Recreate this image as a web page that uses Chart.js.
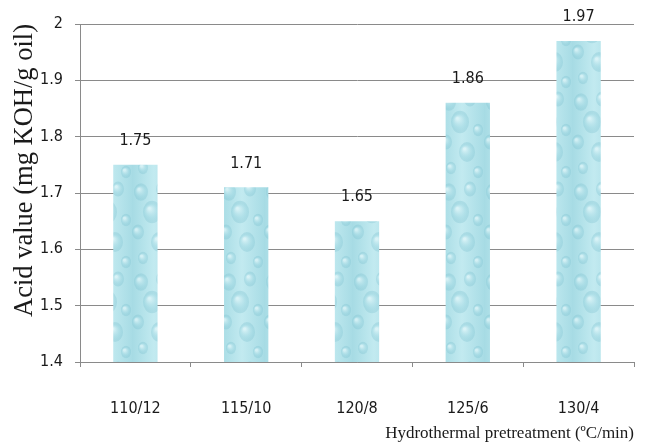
<!DOCTYPE html>
<html>
<head>
<meta charset="utf-8">
<script src="https://cdn.jsdelivr.net/npm/chart.js@4"></script>
<style>
  html, body { margin: 0; padding: 0; background: #fff; }
  #wrap { width: 649px; height: 444px; }
</style>
</head>
<body>
<div id="wrap"><canvas id="myChart" width="649" height="444"></canvas></div>
<script>
const categories = ['110/12', '115/10', '120/8', '125/6', '130/4'];
const acidValues = [1.75, 1.71, 1.65, 1.86, 1.97];
const yTicks = [1.4, 1.5, 1.6, 1.7, 1.8, 1.9, 2];

const sansFont = '"DejaVu Sans Condensed", "DejaVu Sans"';

// water-drop look for the bars
function makeDropPattern() {
  const c = document.createElement('canvas');
  c.width = 44; c.height = 90;
  const g = c.getContext('2d');
  const bg = g.createLinearGradient(0, 0, 44, 0);
  bg.addColorStop(0, '#a6dbe4');
  bg.addColorStop(0.5, '#c2eaf0');
  bg.addColorStop(1, '#a8dce5');
  g.fillStyle = bg;
  g.fillRect(0, 0, 44, 90);
  const drops = [[9, 12, 7], [30, 9, 6], [20, 32, 9], [38, 40, 5], [6, 52, 6], [27, 62, 8], [11, 78, 5], [38, 82, 5]];
  drops.forEach(d => {
    const rg = g.createRadialGradient(d[0] - d[2] * 0.3, d[1] - d[2] * 0.4, 1, d[0], d[1], d[2]);
    rg.addColorStop(0, 'rgba(235,250,252,0.6)');
    rg.addColorStop(0.7, 'rgba(150,210,222,0.4)');
    rg.addColorStop(1, 'rgba(120,190,205,0.3)');
    g.fillStyle = rg;
    g.beginPath();
    g.ellipse(d[0], d[1], d[2], d[2] * 1.25, 0, 0, Math.PI * 2);
    g.fill();
  });
  return document.getElementById('myChart').getContext('2d').createPattern(c, 'repeat');
}

const valueLabels = {
  id: 'valueLabels',
  afterDatasetsDraw(chart) {
    const ctx = chart.ctx;
    const meta = chart.getDatasetMeta(0);
    ctx.save();
    ctx.font = '16px ' + sansFont;
    ctx.fillStyle = '#1a1a1a';
    ctx.textAlign = 'center';
    ctx.textBaseline = 'middle';
    meta.data.forEach((bar, i) => {
      ctx.fillText(acidValues[i].toFixed(2), bar.x, bar.y - 24);
    });
    ctx.restore();
  }
};

new Chart(document.getElementById('myChart'), {
  type: 'bar',
  data: {
    labels: categories,
    datasets: [{
      data: acidValues,
      backgroundColor: makeDropPattern(),
      borderWidth: 0,
      categoryPercentage: 1,
      barPercentage: 0.4
    }]
  },
  options: {
    responsive: false,
    animation: false,
    layout: { padding: { top: 24, right: 15, left: 0, bottom: 0 } },
    plugins: { legend: { display: false }, tooltip: { enabled: false } },
    scales: {
      x: {
        grid: { display: true, drawOnChartArea: false, color: '#8a8a8a', tickLength: 5, offset: true },
        border: { color: '#8a8a8a' },
        ticks: { color: '#1a1a1a', font: { family: sansFont, size: 16 }, padding: 32 },
        title: {
          display: true, align: 'end', text: 'Hydrothermal pretreatment (ºC/min)',
          color: '#1a1a1a', font: { family: 'Liberation Serif', size: 17 }, padding: { top: 0, bottom: 0 }
        },
        afterFit: s => { s.height = 82; }
      },
      y: {
        min: 1.4, max: 2,
        afterBuildTicks: s => { s.ticks = yTicks.map(v => ({ value: v })); },
        grid: { color: '#8a8a8a', tickLength: 5 },
        border: { color: '#8a8a8a' },
        ticks: {
          color: '#1a1a1a', font: { family: sansFont, size: 16 }, padding: 12,
          callback: v => String(v)
        },
        title: {
          display: true, align: 'end', text: 'Acid value (mg KOH/g oil)',
          color: '#1a1a1a', font: { family: 'Liberation Serif', size: 26.5 }, padding: { top: 9, bottom: 0 }
        },
        afterFit: s => { s.width = 80; }
      }
    }
  },
  plugins: [valueLabels]
});
</script>
</body>
</html>
